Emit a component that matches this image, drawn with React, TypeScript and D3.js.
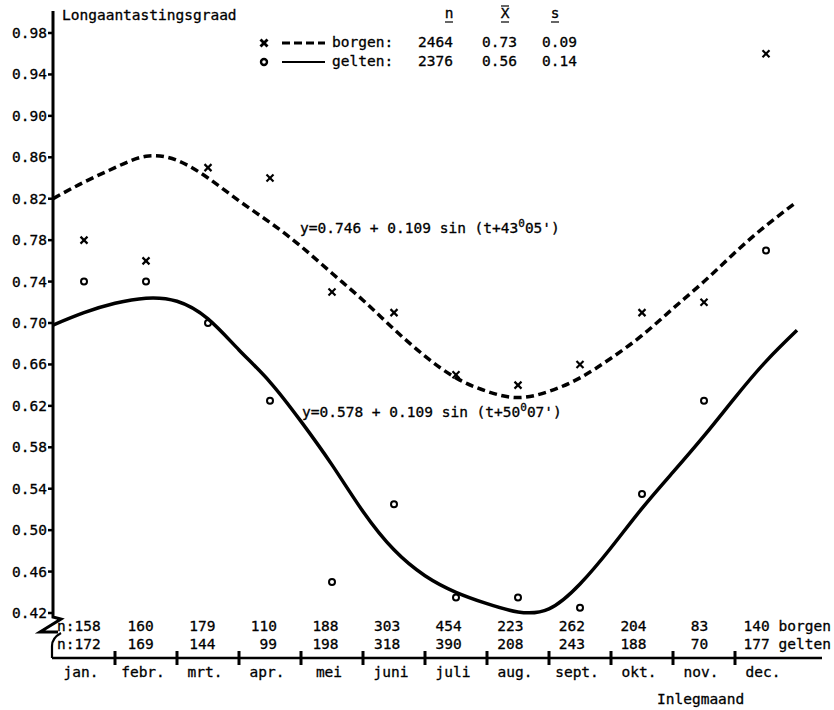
import React from "react";
import * as d3 from "d3";

const months = ["jan.", "febr.", "mrt.", "apr.", "mei", "juni", "juli", "aug.", "sept.", "okt.", "nov.", "dec."];
const borgenN = [158, 160, 179, 110, 188, 303, 454, 223, 262, 204, 83, 140];
const geltenN = [172, 169, 144, 99, 198, 318, 390, 208, 243, 188, 70, 177];
const borgenObs = [0.78, 0.76, 0.85, 0.84, 0.73, 0.71, 0.65, 0.64, 0.66, 0.71, 0.72, 0.96];
const geltenObs = [0.74, 0.74, 0.70, 0.625, 0.45, 0.525, 0.435, 0.435, 0.425, 0.535, 0.625, 0.77];

const curveT = [0, 0.5, 1, 1.5, 2, 2.5, 3, 3.5, 4, 4.5, 5, 5.5, 6, 6.5, 7, 7.5, 8, 8.5, 9, 9.5, 10, 10.5, 11, 11.5, 12];
const borgenCurve = [0.82, 0.836, 0.85, 0.861, 0.857, 0.84, 0.818, 0.797, 0.774, 0.748, 0.722, 0.694, 0.668, 0.647, 0.634, 0.628, 0.634, 0.647, 0.666, 0.688, 0.714, 0.74, 0.768, 0.794, 0.817];
const geltenCurve = [0.698, 0.71, 0.719, 0.724, 0.721, 0.704, 0.674, 0.643, 0.605, 0.563, 0.518, 0.481, 0.456, 0.44, 0.429, 0.421, 0.424, 0.448, 0.483, 0.521, 0.556, 0.591, 0.628, 0.663, 0.693];

const yTicks = [0.42, 0.46, 0.5, 0.54, 0.58, 0.62, 0.66, 0.7, 0.74, 0.78, 0.82, 0.86, 0.9, 0.94, 0.98];
const legendRows = [
  { name: "borgen:", n: "2464", mean: "0.73", sd: "0.09" },
  { name: "gelten:", n: "2376", mean: "0.56", sd: "0.14" },
];

const FONT = "'DejaVu Sans Mono', 'Liberation Mono', monospace";

export default function App() {
  const x = d3.scaleLinear().domain([0, 12]).range([53, 797]);
  const y = d3.scaleLinear().domain([0.42, 0.98]).range([613, 33]);
  const baseY = 658;

  const line = d3
    .line<[number, number]>()
    .x((d) => x(d[0]))
    .y((d) => y(d[1]))
    .curve(d3.curveNatural);

  const bPath = line(curveT.map((t, i) => [t, borgenCurve[i]]) as [number, number][]) || "";
  const gPath = line(curveT.map((t, i) => [t, geltenCurve[i]]) as [number, number][]) || "";

  const cross = (cx: number, cy: number, s: number, w: number, key: string) => (
    <g key={key} stroke="#000" strokeWidth={w} strokeLinecap="butt">
      <line x1={cx - s} y1={cy - s} x2={cx + s} y2={cy + s} />
      <line x1={cx - s} y1={cy + s} x2={cx + s} y2={cy - s} />
    </g>
  );

  const txt = { fontFamily: FONT, fontSize: 14.5, fill: "#000", whiteSpace: "pre" as const, stroke: "#000", strokeWidth: 0.3 };

  return (
    <svg
      width={834}
      height={710}
      style={{ position: "absolute", left: 0, top: 0, background: "#fff" }}
      xmlns="http://www.w3.org/2000/svg"
    >
      <rect x={0} y={0} width={834} height={710} fill="#fff" />

      {/* y axis */}
      <path d={`M53,11 V617 L61,619 L40,632 L58,632`} fill="none" stroke="#000" strokeWidth={3} strokeLinejoin="miter" />
      <path d={`M61,633 Q52,638 52,646 V${baseY}`} fill="none" stroke="#000" strokeWidth={2.2} />
      {yTicks.map((v) => (
        <g key={v}>
          <line x1={48} x2={53} y1={y(v)} y2={y(v)} stroke="#000" strokeWidth={2.5} />
          <text x={47} y={y(v) + 5} textAnchor="end" style={txt}>
            {v.toFixed(2)}
          </text>
        </g>
      ))}
      <text x={62} y={20} style={txt}>Longaantastingsgraad</text>

      {/* x axis */}
      <line x1={52} x2={822} y1={baseY} y2={baseY} stroke="#000" strokeWidth={2.5} />
      {d3.range(1, 12).map((i) => (
        <line key={i} x1={x(i)} x2={x(i)} y1={baseY - 7} y2={baseY + 7} stroke="#000" strokeWidth={3} />
      ))}
      {months.map((m, i) => (
        <text key={m} x={x(i + 0.5) - 3} y={677} textAnchor="middle" style={txt}>
          {m}
        </text>
      ))}
      <text x={657} y={704} style={txt}>Inlegmaand</text>

      {/* n rows */}
      {borgenN.map((n, i) => (
        <text key={"b" + i} x={i === 0 ? 57 : x(i + 0.5) - 18 - i * 0.4} y={631} style={txt}>
          {(i === 0 ? "n:" + n : String(n).padStart(3, " ")) + (i === 11 ? " borgen" : "")}
        </text>
      ))}
      {geltenN.map((n, i) => (
        <text key={"g" + i} x={i === 0 ? 57 : x(i + 0.5) - 18 - i * 0.4} y={649} style={txt}>
          {(i === 0 ? "n:" + n : String(n).padStart(3, " ")) + (i === 11 ? " gelten" : "")}
        </text>
      ))}

      {/* curves */}
      <path d={bPath} fill="none" stroke="#000" strokeWidth={3.5} strokeDasharray="8 4.5" />
      <path d={gPath} fill="none" stroke="#000" strokeWidth={3.5} />

      {/* observations */}
      {borgenObs.map((v, i) => cross(x(i + 0.5), y(v), 3.5, 2.2, "bx" + i))}
      {geltenObs.map((v, i) => (
        <circle key={"gc" + i} cx={x(i + 0.5)} cy={y(v)} r={3} fill="none" stroke="#000" strokeWidth={2} />
      ))}

      {/* formulas */}
      <text x={300} y={233} style={txt}>
        y=0.746 + 0.109 sin (t+43
        <tspan dy={-6} fontSize={11}>0</tspan>
        <tspan dy={6}>05')</tspan>
      </text>
      <text x={302} y={417} style={txt}>
        y=0.578 + 0.109 sin (t+50
        <tspan dy={-6} fontSize={11}>0</tspan>
        <tspan dy={6}>07')</tspan>
      </text>

      {/* legend */}
      <text x={449} y={18} textAnchor="middle" style={txt}>n</text>
      <line x1={445} x2={453} y1={22} y2={22} stroke="#000" strokeWidth={1.2} />
      <text x={505} y={18} textAnchor="middle" style={txt}>X</text>
      <line x1={501} x2={509} y1={6} y2={6} stroke="#000" strokeWidth={1.2} />
      <line x1={501} x2={509} y1={22} y2={22} stroke="#000" strokeWidth={1.2} />
      <text x={555} y={18} textAnchor="middle" style={txt}>s</text>
      <line x1={551} x2={559} y1={22} y2={22} stroke="#000" strokeWidth={1.2} />

      {cross(264, 43, 3.5, 2.8, "lx")}
      <line x1={282} x2={325} y1={43} y2={43} stroke="#000" strokeWidth={3} strokeDasharray="8 4" />
      <circle cx={264} cy={62} r={3} fill="none" stroke="#000" strokeWidth={2.4} />
      <line x1={282} x2={325} y1={62} y2={62} stroke="#000" strokeWidth={2.2} />
      {legendRows.map((r, i) => (
        <g key={r.name}>
          <text x={332} y={47 + i * 19} style={txt}>{r.name}</text>
          <text x={418} y={47 + i * 19} style={txt}>{r.n}</text>
          <text x={482} y={47 + i * 19} style={txt}>{r.mean}</text>
          <text x={542} y={47 + i * 19} style={txt}>{r.sd}</text>
        </g>
      ))}
    </svg>
  );
}
